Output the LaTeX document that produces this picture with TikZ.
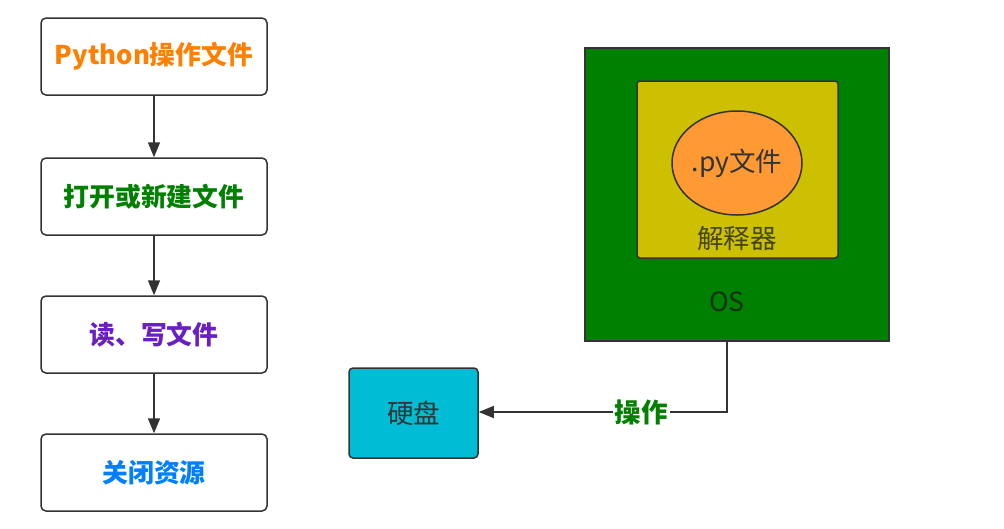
\documentclass[tikz,border=0pt]{standalone}
\usepackage{fontspec}
\setmainfont{Noto Sans CJK SC}
\usetikzlibrary{arrows.meta,shapes.geometric}
\definecolor{edge}{HTML}{333333}
\definecolor{osgreen}{HTML}{008000}
\definecolor{interp}{HTML}{CCC000}
\definecolor{pyorange}{HTML}{FF9933}
\definecolor{disk}{HTML}{00BCD4}
\definecolor{torange}{HTML}{FF8000}
\definecolor{tgreen}{HTML}{008000}
\definecolor{tpurple}{HTML}{6A1FC4}
\definecolor{tblue}{HTML}{007FFF}
\tikzset{
  flowbox/.style={draw=edge, line width=1.5pt, rounded corners=5pt, fill=white,
    minimum width=226pt, minimum height=77pt, inner sep=0pt,
    font=\fontsize{25.8}{30}\selectfont\bfseries},
  conn/.style={draw=edge, line width=1.5pt, -{Triangle[length=15pt,width=12pt]}},
  plain/.style={font=\fontsize{26.5}{30}\selectfont}
}
\begin{document}
\begin{tikzpicture}[x=1pt,y=-1pt]
\useasboundingbox (0,0) rectangle (1004,528);
% flowchart
\node[flowbox, text=torange] (b1) at (154,56.5) {Python操作文件};
\node[flowbox, text=tgreen] (b2) at (154,196.5) {打开或新建文件};
\node[flowbox, text=tpurple] (b3) at (154,334.5) {读、写文件};
\node[flowbox, text=tblue] (b4) at (154,472.5) {关闭资源};
\draw[conn] (b1) -- (b2);
\draw[conn] (b2) -- (b3);
\draw[conn] (b3) -- (b4);
% OS
\node[draw=edge, line width=1.5pt, fill=osgreen, minimum width=304pt, minimum height=293pt, inner sep=0pt] (os) at (737,194.5) {};
\node[draw=edge, line width=1.5pt, fill=interp, rounded corners=3pt, minimum width=201pt, minimum height=177pt, inner sep=0pt] (interp) at (737.5,169.5) {};
\node[ellipse, draw=edge, line width=1.5pt, fill=pyorange, minimum width=130pt, minimum height=104pt, inner sep=0pt, plain, text=edge] (py) at (737,163) {.py文件};
\node[plain, text={rgb,255:red,70;green,70;blue,20}] (interplabel) at (737,238) {解释器};
\node[plain, text={rgb,255:red,20;green,50;blue,20}] (oslabel) at (727,302) {OS};
% disk
\node[draw=edge, line width=1.5pt, fill=disk, rounded corners=4pt, minimum width=129pt, minimum height=90pt, inner sep=0pt, plain, text=edge] (disk) at (413.5,413) {硬盘};
\coordinate (bend) at (727,412);
\draw[conn] (727,341) -- (bend) -- (disk.east |- bend)
  node[pos=0.345, fill=white, inner sep=2pt, text=tgreen, font=\fontsize{26.5}{30}\selectfont\bfseries] (oplabel) {操作};
\end{tikzpicture}
\end{document}
